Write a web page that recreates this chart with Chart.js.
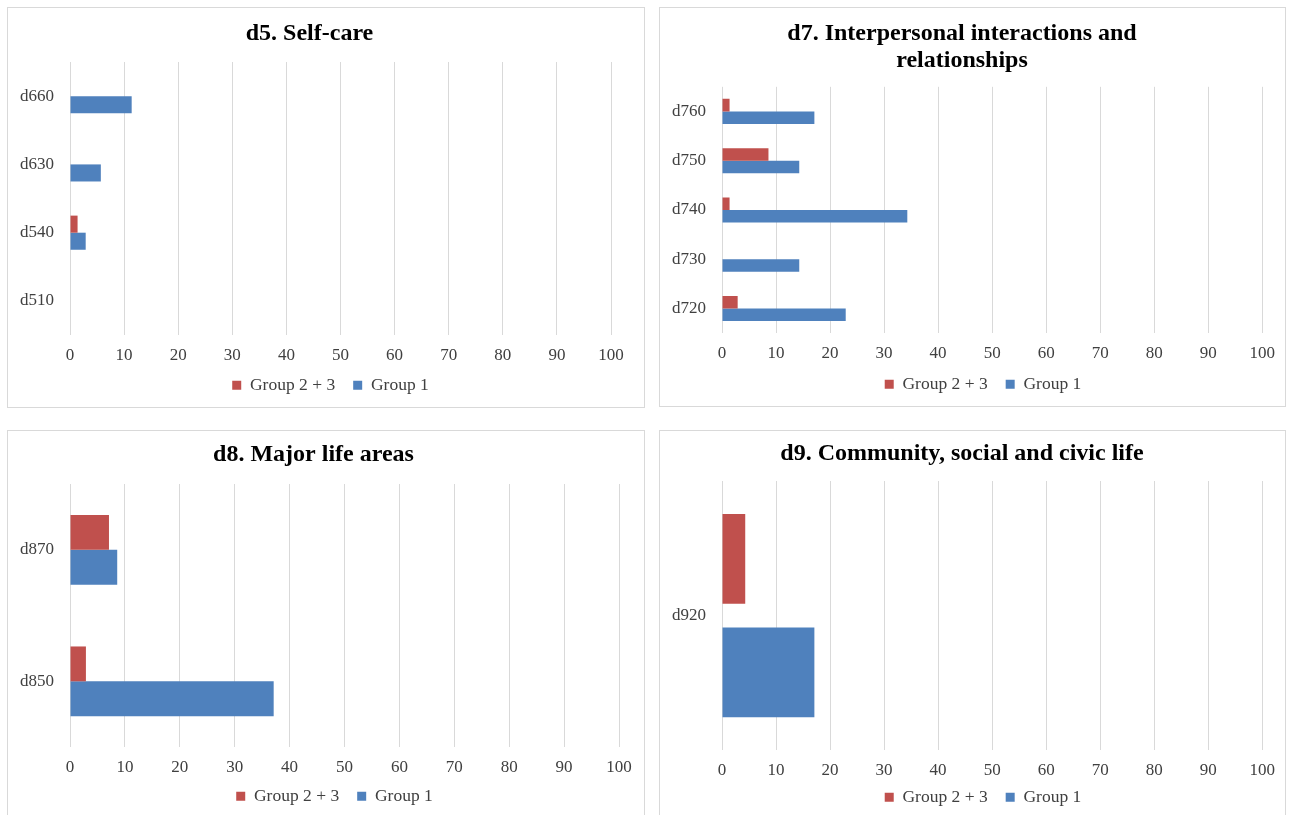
<!DOCTYPE html>
<html>
<head>
<meta charset="utf-8">
<script src="https://cdn.jsdelivr.net/npm/chart.js"></script>
<style>
  html, body { margin: 0; padding: 0; background: #fff; overflow: hidden; }
  .panel { position: absolute; border: 1px solid #d9d9d9; background: #fff; overflow: hidden; }
  .panel canvas { display: block; }
</style>
</head>
<body>
<div class="panel" style="left:7px;top:7px;width:636px;height:399px"><canvas id="selfCare" width="636" height="399"></canvas></div>
<div class="panel" style="left:659px;top:7px;width:625px;height:398px"><canvas id="interpersonal" width="625" height="398"></canvas></div>
<div class="panel" style="left:7px;top:430px;width:636px;height:399px"><canvas id="majorLife" width="636" height="399"></canvas></div>
<div class="panel" style="left:659px;top:430px;width:625px;height:399px"><canvas id="community" width="625" height="399"></canvas></div>
<script>
// percentages per ICF code, listed top to bottom
var selfCareLabels = ['d660', 'd630', 'd540', 'd510'];
var selfCareGroup23 = [0, 0, 1.4, 0];
var selfCareGroup1 = [11.4, 5.7, 2.9, 0];

var interpersonalLabels = ['d760', 'd750', 'd740', 'd730', 'd720'];
var interpersonalGroup23 = [1.4, 8.6, 1.4, 0, 2.9];
var interpersonalGroup1 = [17.1, 14.3, 34.3, 14.3, 22.9];

var majorLifeLabels = ['d870', 'd850'];
var majorLifeGroup23 = [7.1, 2.9];
var majorLifeGroup1 = [8.6, 37.1];

var communityLabels = ['d920'];
var communityGroup23 = [4.3];
var communityGroup1 = [17.1];

var xTicks = [0, 10, 20, 30, 40, 50, 60, 70, 80, 90, 100];

var RED = '#C0504D';
var BLUE = '#4F81BD';
var GRID = '#d9d9d9';
var TEXT = '#404040';
var SERIF = '"Liberation Serif", "Times New Roman", serif';

Chart.defaults.font.family = SERIF;
Chart.defaults.color = TEXT;

// tuck the legend up under the tick labels (and nudge it sideways)
var legendLift = {
    id: 'legendLift',
    afterLayout: function (chart, args, opts) {
        var lg = chart.legend;
        if (!lg) return;
        lg.top -= opts.y;
        lg.bottom -= opts.y;
        lg.left += opts.x;
        lg.right += opts.x;
    }
};

function makeChart(id, title, labels, group23, group1, opt) {
    var ctx = document.getElementById(id).getContext('2d');
    return new Chart(ctx, {
        type: 'bar',
        data: {
            labels: labels,
            datasets: [{
                label: 'Group 2 + 3',
                data: group23,
                backgroundColor: RED,
                categoryPercentage: opt.cat,
                barPercentage: opt.bar
            }, {
                label: 'Group 1',
                data: group1,
                backgroundColor: BLUE,
                categoryPercentage: opt.cat,
                barPercentage: opt.bar
            }]
        },
        plugins: [legendLift],
        options: {
            indexAxis: 'y',
            responsive: false,
            animation: false,
            layout: { padding: { left: 0, right: opt.right, top: 0, bottom: opt.bottom } },
            plugins: {
                title: {
                    display: true,
                    text: title,
                    color: '#000',
                    font: { size: 24, weight: 'bold', family: SERIF, lineHeight: 1.1 },
                    padding: { top: opt.titleTop, bottom: opt.titleBottom }
                },
                legend: {
                    position: 'bottom',
                    labels: {
                        boxWidth: 9,
                        boxHeight: 9,
                        padding: 18,
                        color: TEXT,
                        font: { size: 17.5, family: SERIF }
                    }
                },
                legendLift: { x: 21, y: opt.lift },
                tooltip: { enabled: false }
            },
            scales: {
                x: {
                    min: 0,
                    max: 100,
                    afterBuildTicks: function (axis) {
                        axis.ticks = xTicks.map(function (v) { return { value: v }; });
                    },
                    grid: { color: GRID, drawTicks: false },
                    border: { display: false },
                    ticks: { padding: 10, color: TEXT, font: { size: 17 } }
                },
                y: {
                    grid: { display: false, drawTicks: false },
                    border: { display: false },
                    ticks: { padding: 16, color: TEXT, font: { size: 17 } },
                    afterFit: function (axis) { axis.width = 62; }
                }
            }
        }
    });
}

makeChart('selfCare', 'd5. Self-care', selfCareLabels, selfCareGroup23, selfCareGroup1,
    { cat: 0.5, bar: 1, right: 33, bottom: -14, lift: 17, titleTop: 13, titleBottom: 14.6 });

makeChart('interpersonal', ['d7. Interpersonal interactions and', 'relationships'],
    interpersonalLabels, interpersonalGroup23, interpersonalGroup1,
    { cat: 0.51, bar: 1, right: 21, bottom: -13, lift: 16, titleTop: 13, titleBottom: 13 });

makeChart('majorLife', 'd8. Major life areas', majorLifeLabels, majorLifeGroup23, majorLifeGroup1,
    { cat: 0.53, bar: 1, right: 25, bottom: -3, lift: 18, titleTop: 11, titleBottom: 15.6 });

makeChart('community', 'd9. Community, social and civic life', communityLabels, communityGroup23, communityGroup1,
    { cat: 0.844, bar: 0.79, right: 21, bottom: -6, lift: 20, titleTop: 10, titleBottom: 13.6 });
</script>
</body>
</html>
